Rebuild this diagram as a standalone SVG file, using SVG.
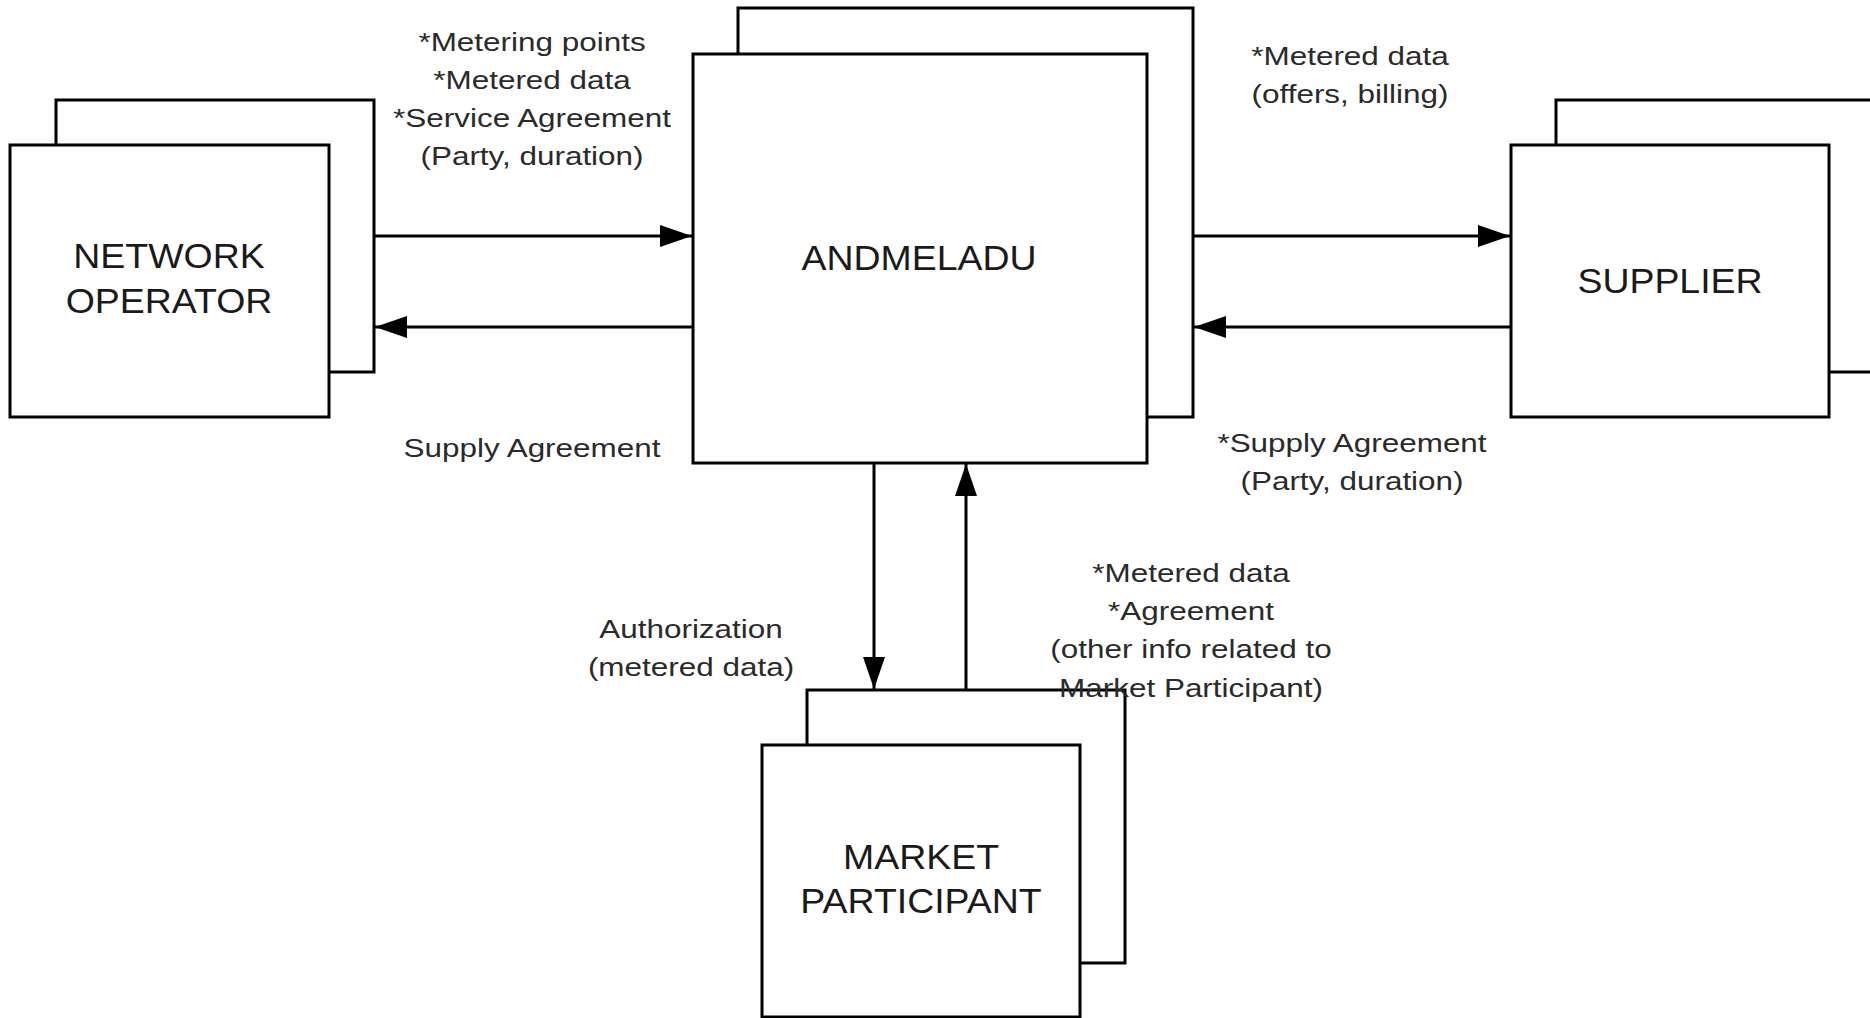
<svg xmlns="http://www.w3.org/2000/svg" width="1870" height="1018" viewBox="0 0 1870 1018">
<style>
  .box { fill: #ffffff; stroke: #000000; stroke-width: 3; }
  .node { font-family: "Liberation Sans", Arial, sans-serif; font-size: 35px; fill: #1a1a1a; text-anchor: middle; }
  .lbl { font-family: "Liberation Sans", Arial, sans-serif; font-size: 26px; fill: #2a2a2a; text-anchor: middle; }
  .conn { fill: none; stroke: #000000; stroke-width: 3; marker-end: url(#arr); }
</style>
<defs>
  <marker id="arr" markerUnits="userSpaceOnUse" markerWidth="32" markerHeight="22" refX="32" refY="11" orient="auto">
    <path d="M0,0 L32,11 L0,22 Z" fill="#000000"/>
  </marker>
</defs>
<rect width="1870" height="1018" fill="#ffffff"/>

<g id="network-operator">
  <rect class="box" x="56" y="100" width="318" height="272"/>
  <rect class="box" x="10" y="145" width="319" height="272"/>
  <text class="node" transform="translate(169,0) scale(1.07,1)"><tspan x="0" y="268">NETWORK</tspan><tspan x="0" y="313">OPERATOR</tspan></text>
</g>

<g id="andmeladu">
  <rect class="box" x="738" y="8" width="455" height="409"/>
  <rect class="box" x="693" y="54" width="454" height="409"/>
  <text class="node" transform="translate(919,0) scale(1.07,1)" x="0" y="270">ANDMELADU</text>
</g>

<g id="supplier">
  <rect class="box" x="1556" y="100" width="360" height="272"/>
  <rect class="box" x="1511" y="145" width="318" height="272"/>
  <text class="node" transform="translate(1670,0) scale(1.07,1)" x="0" y="293">SUPPLIER</text>
</g>

<g id="market-participant">
  <rect class="box" x="807" y="690" width="318" height="273"/>
  <rect class="box" x="762" y="745" width="318" height="272"/>
  <text class="node" transform="translate(921,0) scale(1.07,1)"><tspan x="0" y="869">MARKET</tspan><tspan x="0" y="913">PARTICIPANT</tspan></text>
</g>

<g id="connectors">
  <line class="conn" x1="374" y1="236" x2="692" y2="236"/>
  <line class="conn" x1="693" y1="327" x2="375" y2="327"/>
  <line class="conn" x1="1193" y1="236" x2="1510" y2="236"/>
  <line class="conn" x1="1511" y1="327" x2="1194" y2="327"/>
  <line class="conn" x1="874" y1="463" x2="874" y2="689"/>
  <line class="conn" x1="966" y1="690" x2="966" y2="464"/>
</g>

<g id="labels">
  <text class="lbl" transform="translate(532,0) scale(1.21,1)"><tspan x="0" y="51">*Metering points</tspan><tspan x="0" y="89">*Metered data</tspan><tspan x="0" y="127">*Service Agreement</tspan><tspan x="0" y="165">(Party, duration)</tspan></text>
  <text class="lbl" transform="translate(532,0) scale(1.21,1)" x="0" y="457">Supply Agreement</text>
  <text class="lbl" transform="translate(1350,0) scale(1.21,1)"><tspan x="0" y="65">*Metered data</tspan><tspan x="0" y="103">(offers, billing)</tspan></text>
  <text class="lbl" transform="translate(1352,0) scale(1.21,1)"><tspan x="0" y="452">*Supply Agreement</tspan><tspan x="0" y="490">(Party, duration)</tspan></text>
  <text class="lbl" transform="translate(691,0) scale(1.21,1)"><tspan x="0" y="638">Authorization</tspan><tspan x="0" y="676">(metered data)</tspan></text>
  <text class="lbl" transform="translate(1191,0) scale(1.21,1)"><tspan x="0" y="582">*Metered data</tspan><tspan x="0" y="620">*Agreement</tspan><tspan x="0" y="658">(other info related to</tspan><tspan x="0" y="697">Market Participant)</tspan></text>
</g>
</svg>
